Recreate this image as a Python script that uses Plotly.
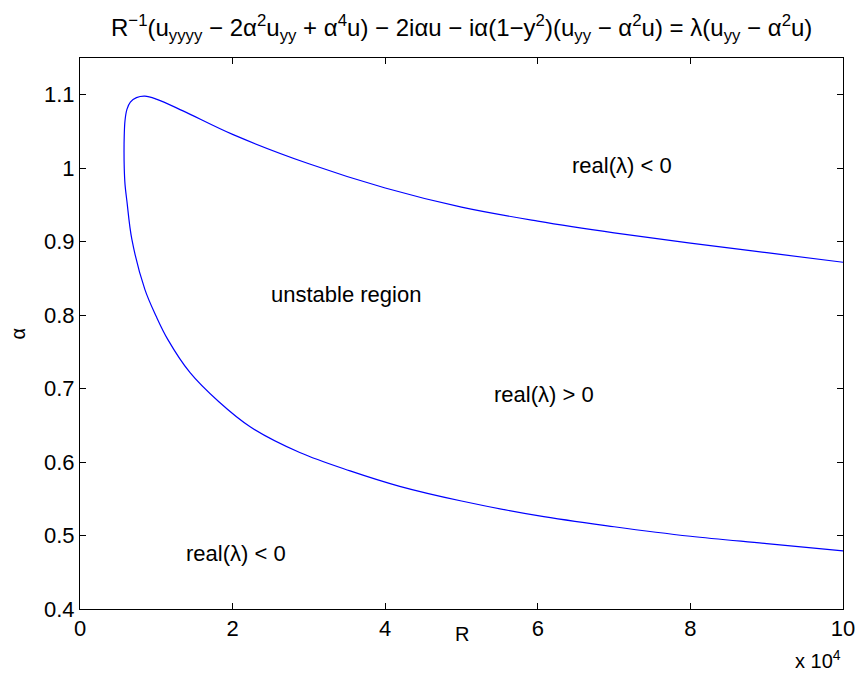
import plotly.graph_objects as go

# Neutral stability curve (R in units of 1e4, alpha)
R_upper = [0.577, 0.580, 0.590, 0.615, 0.660, 0.740, 0.850, 1.00, 1.35, 2.0, 3.0, 4.0, 5.0, 6.0, 7.0, 8.0, 9.0, 10.0]
alpha_upper = [1.022, 1.045, 1.065, 1.080, 1.090, 1.096, 1.098, 1.094, 1.078, 1.046, 1.006, 0.973, 0.947, 0.928, 0.912, 0.898, 0.885, 0.872]
R_lower = [0.577, 0.580, 0.590, 0.615, 0.680, 0.850, 1.00, 1.15, 1.44, 1.82, 2.23, 2.88, 3.54, 4.19, 5.0, 6.0, 7.0, 8.0, 9.0, 10.0]
alpha_lower = [1.022, 1.000, 0.978, 0.955, 0.903, 0.835, 0.798, 0.767, 0.722, 0.682, 0.648, 0.613, 0.588, 0.567, 0.547, 0.527, 0.512, 0.499, 0.489, 0.479]

x_ticks = [0, 2, 4, 6, 8, 10]
x_ticktext = ["0", "2", "4", "6", "8", "10"]
y_ticks = [0.4, 0.5, 0.6, 0.7, 0.8, 0.9, 1.0, 1.1]
y_ticktext = ["0.4", "0.5", "0.6", "0.7", "0.8", "0.9", "1", "1.1"]

labels = ["real(λ) < 0", "unstable region", "real(λ) > 0", "real(λ) < 0"]
label_R = [7.10, 3.48, 6.08, 2.04]
label_alpha = [1.004, 0.828, 0.692, 0.476]

R_curve = list(reversed(R_upper)) + R_lower[1:]
alpha_curve = list(reversed(alpha_upper)) + alpha_lower[1:]

FONT = "Liberation Sans, Arial, Helvetica, sans-serif"
FS = 22

fig = go.Figure()
fig.add_trace(go.Scatter(x=R_curve, y=alpha_curve, mode="lines",
                         line=dict(color="#0000ff", width=1.2, shape="spline", smoothing=1.0),
                         showlegend=False, hoverinfo="skip"))

for t, xx, yy in zip(labels, label_R, label_alpha):
    fig.add_annotation(x=xx, y=yy, text=t, showarrow=False, xanchor="center", yanchor="middle",
                       font=dict(family=FONT, size=FS, color="black"))

title = ("R<sup>−1</sup>(u<sub>yyyy</sub> − 2α<sup>2</sup>u<sub>yy</sub> + α<sup>4</sup>u) − 2iαu − "
         "iα(1−y<sup>2</sup>)(u<sub>yy</sub> − α<sup>2</sup>u) = λ(u<sub>yy</sub> − α<sup>2</sup>u)")
fig.add_annotation(xref="paper", yref="paper", x=0.5, y=1.0, yshift=11, text=title, showarrow=False,
                   xanchor="center", yanchor="bottom", font=dict(family=FONT, size=24, color="black"))
fig.add_annotation(xref="paper", yref="paper", x=1.0, y=0, yshift=-36, text="x 10<sup>4</sup>", showarrow=False,
                   xanchor="right", yanchor="top", font=dict(family=FONT, size=FS - 2, color="black"))
fig.add_annotation(xref="paper", yref="paper", x=0.5, y=0, yshift=-25, text="R", showarrow=False,
                   xanchor="center", yanchor="middle", font=dict(family=FONT, size=FS - 2, color="black"))
fig.add_annotation(xref="paper", yref="paper", x=0, xshift=-63, y=0.5, text="α", showarrow=False,
                   textangle=-90, xanchor="center", yanchor="middle",
                   font=dict(family=FONT, size=FS - 2, color="black"))

axis_common = dict(showline=True, linecolor="black", linewidth=1, mirror="ticks", ticks="inside",
                   ticklen=6, tickcolor="black", showgrid=False, zeroline=False, automargin=False,
                   tickfont=dict(family=FONT, size=FS, color="black"))

fig.update_layout(
    width=856, height=675, autosize=False,
    margin=dict(l=80, r=13, t=58, b=66),
    paper_bgcolor="white", plot_bgcolor="white",
    xaxis=dict(range=[0, 10], tickvals=x_ticks, ticktext=x_ticktext, **axis_common),
    yaxis=dict(range=[0.4, 1.15], tickvals=y_ticks, ticktext=y_ticktext, **axis_common),
)

fig.write_html("out.html")
